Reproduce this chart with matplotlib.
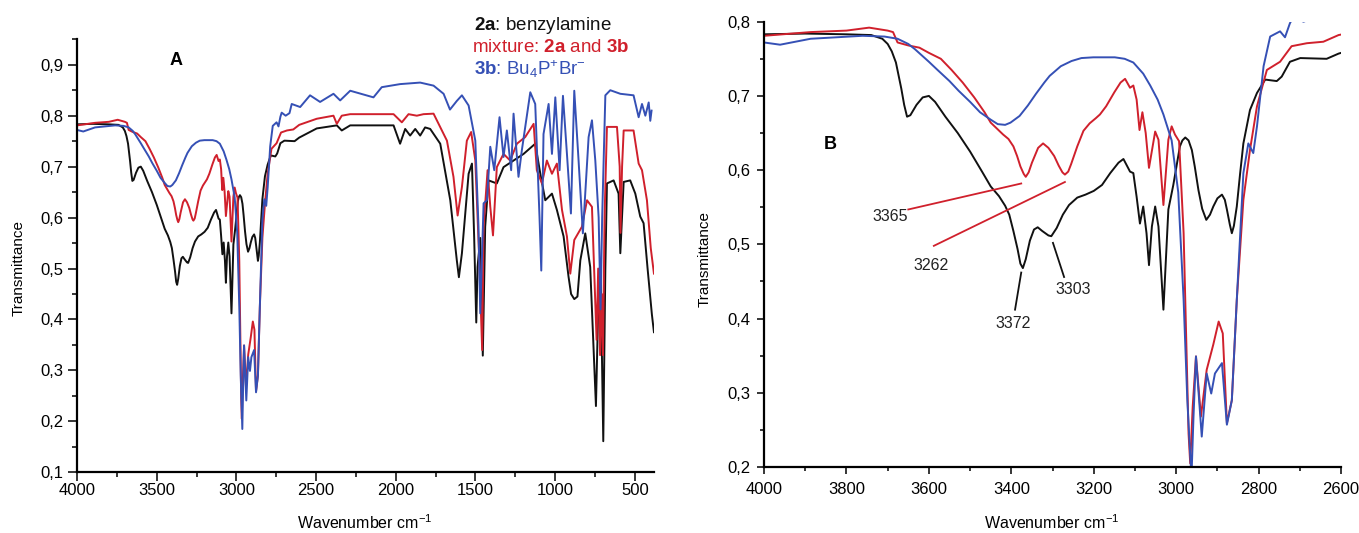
import matplotlib
matplotlib.use("Agg")
import matplotlib.pyplot as plt
from matplotlib.ticker import MultipleLocator, FuncFormatter

# fonts
plt.rcParams["font.family"] = ["Liberation Sans", "DejaVu Sans"]
plt.rcParams["mathtext.fontset"] = "custom"
plt.rcParams["mathtext.rm"] = "Liberation Sans"
plt.rcParams["mathtext.it"] = "Liberation Sans:italic"
plt.rcParams["mathtext.bf"] = "Liberation Sans:bold"

# spectra: (wavenumber cm-1, transmittance)
black_pts = [
    (4000, 0.783), (3900, 0.784), (3800, 0.783), (3740, 0.782), (3713, 0.777), (3700, 0.770),
    (3690, 0.760), (3680, 0.745), (3667, 0.710), (3660, 0.688), (3653, 0.672), (3645, 0.674),
    (3630, 0.688), (3615, 0.698), (3600, 0.700), (3585, 0.692), (3560, 0.672), (3530, 0.650),
    (3500, 0.625), (3470, 0.597), (3450, 0.578), (3430, 0.565), (3415, 0.552), (3405, 0.540),
    (3395, 0.518), (3385, 0.494), (3378, 0.474), (3372, 0.468), (3365, 0.480), (3355, 0.505),
    (3345, 0.520), (3336, 0.523), (3325, 0.518), (3310, 0.512), (3303, 0.511), (3290, 0.522),
    (3275, 0.540), (3260, 0.553), (3240, 0.563), (3220, 0.567), (3200, 0.572), (3180, 0.580),
    (3160, 0.596), (3140, 0.610), (3128, 0.615), (3112, 0.598), (3104, 0.596), (3096, 0.564),
    (3088, 0.528), (3080, 0.551), (3072, 0.515), (3066, 0.472), (3059, 0.524), (3051, 0.551),
    (3043, 0.524), (3031, 0.412), (3019, 0.547), (3007, 0.580), (2991, 0.632), (2985, 0.640),
    (2978, 0.644), (2970, 0.640), (2962, 0.627), (2955, 0.605), (2946, 0.573), (2937, 0.548),
    (2927, 0.533), (2918, 0.540), (2910, 0.551), (2900, 0.562), (2889, 0.567), (2882, 0.560),
    (2877, 0.547), (2870, 0.527), (2865, 0.515), (2860, 0.525), (2853, 0.551), (2845, 0.595),
    (2837, 0.636), (2821, 0.681), (2804, 0.704), (2784, 0.722), (2756, 0.720), (2744, 0.726),
    (2724, 0.746), (2699, 0.751), (2635, 0.750), (2606, 0.757), (2496, 0.775), (2370, 0.781),
    (2339, 0.771), (2286, 0.781), (2014, 0.781), (1973, 0.745), (1941, 0.774), (1910, 0.761),
    (1878, 0.774), (1847, 0.761), (1816, 0.777), (1784, 0.774), (1721, 0.745), (1658, 0.634),
    (1617, 0.516), (1604, 0.483), (1585, 0.530), (1543, 0.686), (1522, 0.706), (1508, 0.560),
    (1495, 0.394), (1487, 0.503), (1470, 0.560), (1454, 0.329), (1439, 0.582), (1418, 0.673),
    (1366, 0.667), (1324, 0.699), (1261, 0.712), (1198, 0.725), (1125, 0.745), (1093, 0.686),
    (1062, 0.634), (1020, 0.647), (989, 0.615), (947, 0.563), (916, 0.484), (900, 0.450),
    (880, 0.440), (860, 0.445), (842, 0.516), (811, 0.569), (780, 0.503), (760, 0.350),
    (744, 0.230), (730, 0.420), (715, 0.500), (698, 0.161), (685, 0.500), (675, 0.667),
    (633, 0.673), (602, 0.647), (591, 0.530), (570, 0.670), (529, 0.673), (497, 0.647),
    (466, 0.602), (445, 0.589), (420, 0.500), (393, 0.410), (380, 0.375),
]

red_pts = [
    (4000, 0.781), (3887, 0.786), (3800, 0.788), (3745, 0.792), (3700, 0.788), (3687, 0.786),
    (3676, 0.772), (3650, 0.768), (3623, 0.765), (3600, 0.758), (3571, 0.750), (3545, 0.735),
    (3518, 0.718), (3490, 0.698), (3465, 0.678), (3450, 0.664), (3433, 0.655), (3420, 0.648),
    (3407, 0.642), (3395, 0.632), (3386, 0.619), (3378, 0.605), (3370, 0.595), (3365, 0.591),
    (3358, 0.597), (3350, 0.610), (3335, 0.630), (3323, 0.636), (3310, 0.630), (3296, 0.619),
    (3285, 0.606), (3276, 0.597), (3270, 0.594), (3262, 0.598), (3255, 0.608), (3240, 0.632),
    (3225, 0.653), (3210, 0.663), (3195, 0.670), (3185, 0.675), (3170, 0.686), (3150, 0.705),
    (3135, 0.718), (3124, 0.723), (3112, 0.711), (3104, 0.714), (3096, 0.695), (3089, 0.654),
    (3082, 0.678), (3074, 0.650), (3066, 0.603), (3051, 0.652), (3043, 0.641), (3031, 0.553),
    (3019, 0.641), (3011, 0.659), (3003, 0.648), (2993, 0.639), (2982, 0.515), (2976, 0.380),
    (2970, 0.245), (2966, 0.205), (2960, 0.281), (2952, 0.349), (2940, 0.268), (2926, 0.331),
    (2910, 0.365), (2897, 0.396), (2887, 0.380), (2877, 0.259), (2865, 0.290), (2853, 0.425),
    (2837, 0.560), (2821, 0.627), (2804, 0.686), (2780, 0.735), (2748, 0.746), (2720, 0.767),
    (2683, 0.771), (2643, 0.773), (2606, 0.782), (2496, 0.794), (2391, 0.800), (2370, 0.784),
    (2339, 0.800), (2286, 0.803), (2014, 0.803), (1962, 0.787), (1920, 0.803), (1868, 0.800),
    (1826, 0.803), (1763, 0.804), (1679, 0.751), (1638, 0.680), (1612, 0.604), (1585, 0.660),
    (1554, 0.751), (1527, 0.768), (1501, 0.712), (1476, 0.516), (1458, 0.340), (1449, 0.582),
    (1424, 0.693), (1407, 0.621), (1390, 0.565), (1366, 0.699), (1324, 0.725), (1282, 0.712),
    (1240, 0.745), (1188, 0.758), (1135, 0.784), (1115, 0.693), (1083, 0.667), (1052, 0.712),
    (1020, 0.686), (989, 0.706), (957, 0.615), (926, 0.563), (905, 0.490), (880, 0.556),
    (832, 0.582), (800, 0.634), (769, 0.621), (750, 0.450), (740, 0.360), (730, 0.500),
    (718, 0.330), (708, 0.450), (700, 0.330), (690, 0.600), (675, 0.778), (612, 0.778),
    (595, 0.700), (590, 0.570), (580, 0.700), (570, 0.771), (508, 0.771), (476, 0.706),
    (455, 0.693), (424, 0.634), (400, 0.540), (380, 0.490),
]

blue_pts = [
    (4000, 0.772), (3961, 0.769), (3887, 0.777), (3761, 0.781), (3708, 0.780), (3676, 0.777),
    (3650, 0.770), (3634, 0.763), (3600, 0.746), (3581, 0.736), (3550, 0.720), (3528, 0.707),
    (3500, 0.692), (3476, 0.678), (3450, 0.668), (3433, 0.662), (3415, 0.661), (3402, 0.664),
    (3380, 0.673), (3360, 0.687), (3340, 0.703), (3320, 0.718), (3307, 0.727), (3280, 0.740),
    (3254, 0.747), (3230, 0.751), (3201, 0.752), (3170, 0.752), (3149, 0.752), (3125, 0.750),
    (3104, 0.745), (3080, 0.730), (3063, 0.714), (3045, 0.695), (3031, 0.675), (3011, 0.640),
    (2995, 0.570), (2982, 0.425), (2973, 0.290), (2963, 0.185), (2958, 0.268), (2952, 0.349),
    (2938, 0.241), (2926, 0.326), (2915, 0.299), (2906, 0.326), (2889, 0.340), (2877, 0.257),
    (2865, 0.290), (2853, 0.425), (2837, 0.596), (2825, 0.636), (2813, 0.623), (2804, 0.659),
    (2788, 0.740), (2772, 0.780), (2748, 0.787), (2736, 0.779), (2724, 0.798), (2716, 0.806),
    (2691, 0.800), (2667, 0.805), (2653, 0.823), (2600, 0.817), (2538, 0.840), (2475, 0.827),
    (2391, 0.843), (2349, 0.830), (2286, 0.849), (2140, 0.836), (2088, 0.856), (1973, 0.862),
    (1847, 0.865), (1763, 0.859), (1700, 0.843), (1660, 0.812), (1617, 0.829), (1585, 0.840),
    (1543, 0.820), (1501, 0.751), (1481, 0.582), (1470, 0.412), (1449, 0.628), (1428, 0.634),
    (1407, 0.739), (1382, 0.693), (1349, 0.797), (1324, 0.719), (1303, 0.771), (1276, 0.693),
    (1261, 0.804), (1230, 0.680), (1209, 0.732), (1156, 0.846), (1125, 0.823), (1098, 0.600),
    (1087, 0.496), (1073, 0.764), (1041, 0.823), (1020, 0.725), (999, 0.836), (972, 0.693),
    (951, 0.839), (926, 0.725), (901, 0.608), (880, 0.849), (853, 0.712), (826, 0.569),
    (790, 0.758), (769, 0.791), (748, 0.712), (727, 0.600), (715, 0.420), (705, 0.600),
    (685, 0.840), (654, 0.850), (591, 0.843), (508, 0.840), (476, 0.797), (455, 0.823),
    (434, 0.800), (413, 0.826), (403, 0.790), (395, 0.810),
]

wn_black, tr_black = zip(*black_pts)
wn_red, tr_red = zip(*red_pts)
wn_blue, tr_blue = zip(*blue_pts)

# peak labels for panel B
peak_red = ["3365", "3262"]
peak_black = ["3372", "3303"]

BLACK = "#111111"
RED = "#d0202c"
BLUE = "#3550b5"

comma = FuncFormatter(lambda v, p: f"{v:.1f}".replace(".", ","))

fig = plt.figure(figsize=(13.59, 5.33), dpi=100, facecolor="white")
axA = fig.add_axes([0.0567, 0.1139, 0.4245, 0.8124])
axB = fig.add_axes([0.5622, 0.1238, 0.4246, 0.8355])

for ax in (axA, axB):
    ax.plot(wn_black, tr_black, color=BLACK, lw=1.4)
    ax.plot(wn_red, tr_red, color=RED, lw=1.4)
    ax.plot(wn_blue, tr_blue, color=BLUE, lw=1.4)
    ax.spines["top"].set_visible(False)
    ax.spines["right"].set_visible(False)
    ax.spines["left"].set_linewidth(1.6)
    ax.spines["bottom"].set_linewidth(1.6)
    ax.yaxis.set_major_formatter(comma)
    ax.tick_params(labelsize=12)

# panel A
axA.set_xlim(4000, 380)
axA.set_ylim(0.1, 0.95)
axA.xaxis.set_major_locator(MultipleLocator(500))
axA.xaxis.set_minor_locator(MultipleLocator(250))
axA.yaxis.set_major_locator(MultipleLocator(0.1))
axA.yaxis.set_minor_locator(MultipleLocator(0.05))
axA.tick_params(which="major", direction="out", length=6.5, width=1.1)
axA.tick_params(which="minor", direction="out", length=3.6, width=1.1)
axA.tick_params(axis="x", pad=1)
axA.tick_params(axis="y", pad=3.5)
axA.text(0.172, 0.95, "A", transform=axA.transAxes, fontsize=13, fontweight="bold",
         ha="center", va="center")
axA.text(0.688, 1.032, r"$\mathbf{2a}$: benzylamine", transform=axA.transAxes,
         fontsize=13.5, color=BLACK, ha="left", va="center")
axA.text(0.685, 0.981, r"mixture: $\mathbf{2a}$ and $\mathbf{3b}$", transform=axA.transAxes,
         fontsize=13.5, color=RED, ha="left", va="center")
axA.text(0.688, 0.932, r"$\mathbf{3b}$: Bu$_4$P$^{+}$Br$^{-}$", transform=axA.transAxes,
         fontsize=13.5, color=BLUE, ha="left", va="center")

# panel B
axB.set_xlim(4000, 2600)
axB.set_ylim(0.2, 0.8)
axB.xaxis.set_major_locator(MultipleLocator(200))
axB.xaxis.set_minor_locator(MultipleLocator(100))
axB.yaxis.set_major_locator(MultipleLocator(0.1))
axB.yaxis.set_minor_locator(MultipleLocator(0.05))
axB.tick_params(which="major", direction="out", length=4.7, width=1.1)
axB.tick_params(which="minor", direction="out", length=2.8, width=1.1)
axB.tick_params(axis="x", pad=6)
axB.tick_params(axis="y", pad=5)
axB.text(3840, 0.635, "B", fontsize=13, fontweight="bold", ha="center", va="center")

# annotation lines
axB.plot([3650, 3376], [0.547, 0.582], color=RED, lw=1.3)
axB.plot([3588, 3270], [0.498, 0.584], color=RED, lw=1.3)
axB.text(3652, 0.537, peak_red[0], color="#222222", fontsize=11.5, ha="right", va="center")
axB.text(3595, 0.472, peak_red[1], color="#222222", fontsize=11.5, ha="center", va="center")
axB.plot([3391, 3376], [0.412, 0.462], color=BLACK, lw=1.3)
axB.plot([3299, 3272], [0.502, 0.456], color=BLACK, lw=1.3)
axB.text(3396, 0.394, peak_black[0], color="#222222", fontsize=11.5, ha="center", va="center")
axB.text(3250, 0.439, peak_black[1], color="#222222", fontsize=11.5, ha="center", va="center")

# axis labels
fig.text(19 / 1359, 1 - 268 / 533, "Transmittance", rotation=90, fontsize=11,
         ha="center", va="center")
fig.text(705 / 1359, 1 - 259 / 533, "Transmittance", rotation=90, fontsize=11,
         ha="center", va="center")
fig.text(365 / 1359, 1 - 523 / 533, r"Wavenumber cm$^{-1}$", fontsize=11.5,
         ha="center", va="center")
fig.text(1052 / 1359, 1 - 523 / 533, r"Wavenumber cm$^{-1}$", fontsize=11.5,
         ha="center", va="center")

fig.savefig("out.png", dpi=100, facecolor="white")
